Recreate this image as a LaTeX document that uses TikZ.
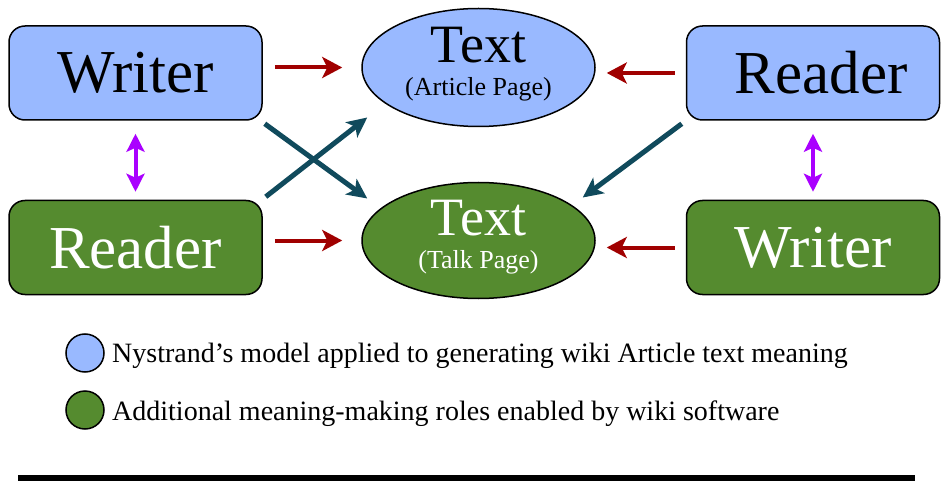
\documentclass[tikz,border=0pt]{standalone}
\usepackage{fontspec}
\setmainfont{Liberation Serif}
\usetikzlibrary{shapes.geometric,arrows.meta,calc}

\definecolor{roleblue}{RGB}{153,185,255}
\definecolor{rolegreen}{RGB}{85,139,47}
\definecolor{flowred}{RGB}{160,0,0}
\definecolor{flowteal}{RGB}{16,74,92}
\definecolor{swapviolet}{RGB}{170,0,255}

\tikzset{
  rolebox/.style={draw=black,line width=1.5pt,rounded corners=16pt,
    minimum width=253pt,minimum height=94pt,inner sep=0pt,
    font=\fontsize{61}{61}\selectfont},
  textblob/.style={ellipse,draw=black,line width=1.5pt,minimum width=233pt,
    minimum height=118pt,inner sep=0pt,align=center,
    font=\fontsize{54}{54}\selectfont},
  keydot/.style={circle,draw=black,line width=1.5pt,minimum size=38pt,inner sep=0pt},
  redflow/.style={draw=flowred,line width=4pt,-{Stealth[length=20pt,width=21pt,inset=5pt]}},
  tealflow/.style={draw=flowteal,line width=5pt,-{Stealth[length=20pt,width=19pt,inset=5pt]}},
  swapflow/.style={draw=swapviolet,line width=4pt,
    {Stealth[length=18pt,width=18pt,inset=4pt]}-{Stealth[length=18pt,width=18pt,inset=4pt]}}
}
\newcommand{\pagenote}[1]{{\fontsize{26}{26}\selectfont #1\rule[-12pt]{0pt}{1pt}}}

\begin{document}
\begin{tikzpicture}[x=1pt,y=-1pt]
    \useasboundingbox (0,0) rectangle (942,481);

    \begin{scope}
    % roles and texts
    \node[rolebox,fill=roleblue] (artwriter) at (135.5,73) {Writer};
    \node[rolebox,fill=rolegreen,text=white] (talkreader) at (135.5,247.5) {Reader};
    \node[rolebox,fill=roleblue] (artreader) at (813,73) {\hspace*{16pt}Reader};
    \node[rolebox,fill=rolegreen,text=white] (talkwriter) at (813,247.5) {Writer};

    \node[textblob,fill=roleblue] (arttext) at (478.5,67.5)
        {Text\\[-21pt]\pagenote{(Article Page)}};
    \node[textblob,fill=rolegreen,text=white,minimum height=116pt] (talktext) at (478.5,240.5)
        {Text\\[-21pt]\pagenote{(Talk Page)}};

    % writing and reading flows
    \draw[redflow,shorten <=12pt,shorten >=19pt] (artwriter.east |- arttext.west) -- (arttext.west);
    \draw[redflow,shorten <=12pt,shorten >=19pt] (talkreader.east |- talktext.west) -- (talktext.west);
    \draw[redflow,shorten <=11pt,shorten >=11pt] (artreader.west) -- (artreader.west -| arttext.east);
    \draw[redflow,shorten <=11pt,shorten >=11pt] (talkwriter.west) -- (talkwriter.west -| talktext.east);

    \draw[tealflow] ($(artwriter.south east)+(2,3)$) -- ($(talktext.west)+(6,-42)$);
    \draw[tealflow] ($(talkreader.north east)+(3,-3)$) -- ($(arttext.west)+(6,50)$);
    \draw[tealflow] ($(artreader.south west)+(-4,3)$) -- ($(talktext.east)+(-13,-43)$);

    \draw[swapflow,xshift=2.5pt,shorten <=13pt,shorten >=8pt] (artwriter.south) -- (talkreader.north);
    \draw[swapflow,xshift=5pt,shorten <=13pt,shorten >=8pt] (artreader.south) -- (talkwriter.north);
    \end{scope}

    % legend
    \node[keydot,fill=roleblue] (keyblue) at (85,353) {};
    \node[keydot,fill=rolegreen] (keygreen) at (85,410) {};
    \node[anchor=base west,inner sep=0pt,font=\fontsize{28}{28}\selectfont] (keybluetext) at (112,362)
        {Nystrand’s model applied to generating wiki Article text meaning};
    \node[anchor=base west,inner sep=0pt,font=\fontsize{28}{28}\selectfont] (keygreentext) at (112,420)
        {Additional meaning-making roles enabled by wiki software};

    \fill (18,475) rectangle (915,481);
\end{tikzpicture}
\end{document}
